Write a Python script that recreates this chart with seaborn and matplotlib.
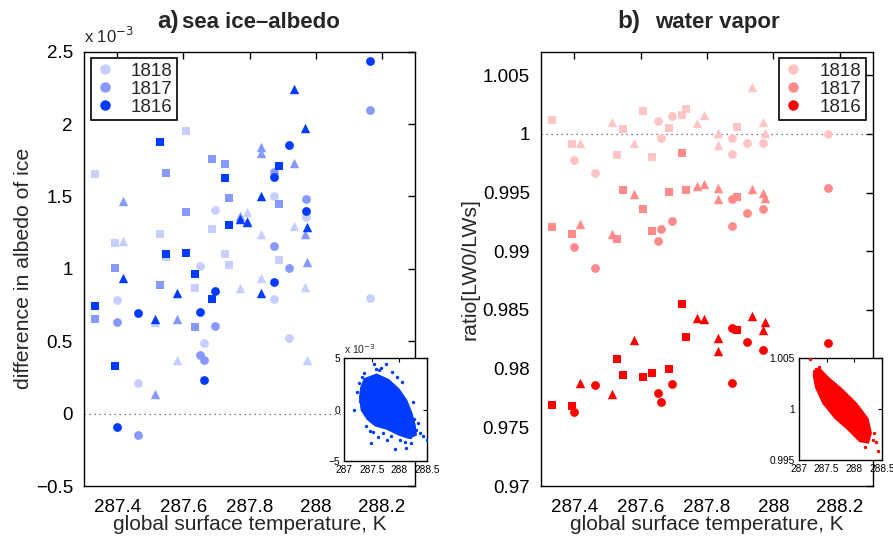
import numpy as np
import pandas as pd
import matplotlib
matplotlib.use("Agg")
import matplotlib.pyplot as plt
import seaborn as sns
from matplotlib.lines import Line2D
from matplotlib.ticker import FuncFormatter

# ---------------- data ----------------
years = ["1818", "1817", "1816"]

# global surface temperature (K) of each ensemble member, per marker group
sq_temp = [287.334, 287.394, 287.530, 287.548, 287.608, 287.635, 287.686, 287.726, 287.738, 287.889]
ci_temp = [287.399, 287.463, 287.651, 287.661, 287.696, 287.875, 287.875, 287.920, 287.970, 288.164]
tr_temp = [287.418, 287.514, 287.580, 287.771, 287.792, 287.834, 287.834, 287.935, 287.968, 287.974]

# a) difference in albedo of ice (units of 1e-3)
alb_sq_1818 = [1.655, 1.177, 1.239, 1.084, 1.950, 0.868, 1.274, 1.103, 1.027, 1.059]
alb_sq_1817 = [0.652, 1.004, 0.887, 1.660, 1.391, 0.597, 1.757, 1.722, 1.487, 1.446]
alb_sq_1816 = [0.742, 0.329, 1.874, 1.103, 1.110, 0.963, 0.790, 1.626, 1.303, 1.709]
alb_ci_1818 = [0.787, 0.212, 1.018, 0.488, 1.409, 1.503, 0.794, 0.525, 1.356, 0.801]
alb_ci_1817 = [0.631, -0.145, 0.403, 0.369, 0.608, 1.669, 1.158, 1.004, 1.481, 2.099]
alb_ci_1816 = [-0.090, 0.695, 0.700, 0.233, 0.845, 1.633, 0.910, 1.854, 1.398, 2.436]
alb_tr_1818 = [1.191, 0.630, 0.369, 0.868, 1.395, 1.239, 0.939, 1.296, 0.877, 0.371]
alb_tr_1817 = [1.469, 0.138, 0.652, 1.367, 1.330, 1.844, 1.803, 1.729, 1.239, 1.050]
alb_tr_1816 = [0.939, 0.652, 0.834, 1.342, 1.322, 1.506, 0.832, 2.242, 1.971, 1.287]

# b) ratio LW0/LWs
wv_sq_1818 = [1.00119, 0.99915, 0.99822, 1.00042, 1.00195, 0.99805, 1.00051, 1.00164, 1.00212, 1.00059]
wv_sq_1817 = [0.99203, 0.99144, 0.99102, 0.99525, 0.99364, 0.99172, 0.99505, 0.99839, 0.99525, 0.99466]
wv_sq_1816 = [0.97692, 0.97680, 0.98085, 0.97949, 0.97932, 0.97966, 0.97994, 0.98553, 0.98271, 0.98330]
wv_ci_1818 = [0.99774, 0.99666, 1.00107, 0.99963, 1.00149, 0.99966, 0.99830, 0.99926, 0.99926, 1.00000]
wv_ci_1817 = [0.99034, 0.98856, 0.99090, 0.99192, 0.99257, 0.99441, 0.99217, 0.99322, 0.99358, 0.99536]
wv_ci_1816 = [0.97627, 0.97864, 0.97794, 0.97712, 0.97869, 0.98344, 0.97878, 0.98225, 0.98155, 0.98220]
wv_tr_1818 = [0.99926, 1.00104, 0.99920, 1.00090, 1.00164, 1.00008, 0.99903, 1.00401, 1.00098, 1.00008]
wv_tr_1817 = [0.99234, 0.99144, 0.99486, 0.99556, 0.99570, 0.99539, 0.99449, 0.99528, 0.99500, 0.99454]
wv_tr_1816 = [0.97875, 0.97785, 0.98240, 0.98435, 0.98426, 0.98259, 0.98153, 0.98452, 0.98327, 0.98395]

# inset clouds (large ensemble): outline of the dense core + scattered outliers
inA_core_t = [287.37, 287.59, 287.81, 287.99, 288.13, 288.22, 288.28, 288.30, 288.17, 288.00,
              287.77, 287.57, 287.43, 287.32, 287.29, 287.31]
inA_core_v = [2.95, 3.40, 2.85, 1.95, 0.85, -0.35, -1.55, -2.45, -2.75, -2.45,
              -1.85, -1.55, -0.95, -0.05, 1.15, 2.10]
inA_out_t = [287.55, 287.76, 287.36, 287.19, 287.29, 287.47, 287.62, 287.71, 287.92, 288.13,
             288.19, 288.31, 288.43, 288.50, 288.22, 288.01, 287.44, 288.25, 288.34, 287.95,
             287.86, 287.67, 287.49, 287.77, 287.27, 287.33, 287.40, 287.52, 287.63, 288.05,
             288.10, 288.38, 287.23, 287.58, 287.85, 288.27]
inA_out_v = [4.45, 4.45, 3.58, -0.05, 0.86, -2.09, -2.64, -2.31, -3.83, -3.77,
             -2.64, -1.99, -2.57, -2.96, -3.28, -2.96, 1.57, 0.76, -1.34, 3.18,
             3.67, 4.00, -3.28, -2.96, 2.60, 3.20, -1.60, -2.20, 3.80, 2.70,
             -3.20, -2.30, 1.70, 3.90, -2.60, -0.90]
inB_core_t = [287.27, 287.38, 287.53, 287.77, 288.04, 288.24, 288.30, 288.25, 288.10, 287.89,
              287.65, 287.44, 287.31, 287.27]
inB_core_v = [1.00370, 1.00390, 1.00305, 1.00195, 1.00050, 0.99905, 0.99765, 0.99670, 0.99685, 0.99800,
              0.99915, 1.00056, 1.00210, 1.00320]
inB_out_t = [287.20, 288.40, 288.43, 288.33, 288.19, 287.30, 287.36, 288.36]
inB_out_v = [1.00487, 0.99680, 0.99591, 0.99700, 0.99630, 1.00395, 1.00410, 0.99760]

temps = {"s": sq_temp, "o": ci_temp, "^": tr_temp}
alb = {("s", "1818"): alb_sq_1818, ("s", "1817"): alb_sq_1817, ("s", "1816"): alb_sq_1816,
       ("o", "1818"): alb_ci_1818, ("o", "1817"): alb_ci_1817, ("o", "1816"): alb_ci_1816,
       ("^", "1818"): alb_tr_1818, ("^", "1817"): alb_tr_1817, ("^", "1816"): alb_tr_1816}
wv = {("s", "1818"): wv_sq_1818, ("s", "1817"): wv_sq_1817, ("s", "1816"): wv_sq_1816,
      ("o", "1818"): wv_ci_1818, ("o", "1817"): wv_ci_1817, ("o", "1816"): wv_ci_1816,
      ("^", "1818"): wv_tr_1818, ("^", "1817"): wv_tr_1817, ("^", "1816"): wv_tr_1816}

blues = {"1818": "#c6cfff", "1817": "#8699ff", "1816": "#003cff"}
reds = {"1818": "#ffc4c4", "1817": "#ff8a8a", "1816": "#ff0000"}
msize = {"s": 30, "o": 40, "^": 46}

# ---------------- style ----------------
sns.set_theme(style="white")
plt.rcParams["font.family"] = ["Liberation Sans", "DejaVu Sans"]
plt.rcParams["axes.linewidth"] = 1.0
plt.rcParams["axes.edgecolor"] = "black"

fig = plt.figure(figsize=(8.93, 5.42), dpi=100)
axL = fig.add_axes([0.0941, 0.1033, 0.3707, 0.8013])
axR = fig.add_axes([0.6058, 0.1033, 0.3718, 0.8013])


def fmt(v, p):
    return ("%g" % round(v, 4)).replace("-", "\u2212")


def draw_main(ax, data, pal):
    for yr in years:
        for m in ["s", "o", "^"]:
            df = pd.DataFrame({"T": temps[m], "v": data[(m, yr)]})
            sns.scatterplot(data=df, x="T", y="v", marker=m, s=msize[m], color=pal[yr],
                            linewidth=0, ax=ax, legend=False, zorder=3)
    ax.set_xlim(287.3, 288.3)
    ax.set_xticks([287.4, 287.6, 287.8, 288.0, 288.2])
    ax.xaxis.set_major_formatter(FuncFormatter(fmt))
    ax.yaxis.set_major_formatter(FuncFormatter(fmt))
    ax.tick_params(direction="in", length=5, width=1, top=True, right=True,
                   labelsize=13.5, colors="black", pad=8)
    ax.tick_params(axis="x", pad=9.5)
    for s in ax.spines.values():
        s.set_color("black")
        s.set_linewidth(1.0)
    ax.set_xlabel("global surface temperature, K", fontsize=15)
    ax.xaxis.set_label_coords(0.5, -0.067)
    handles = [Line2D([], [], marker="o", ls="", color=pal[y], markersize=7.5, markeredgewidth=0)
               for y in years]
    return handles


hL = draw_main(axL, alb, blues)
axL.set_ylim(-0.5, 2.5)
axL.set_yticks([-0.5, 0, 0.5, 1, 1.5, 2, 2.5])
axL.axhline(0, color="#555555", lw=0.9, ls=(0, (1, 3)), zorder=1)
axL.set_ylabel("difference in albedo of ice", fontsize=15.3)
axL.yaxis.set_label_coords(-0.154, 0.5)
axL.text(0.0, 1.012, "x 10$^{-3}$", transform=axL.transAxes, fontsize=12, ha="left", va="bottom")
legL = axL.legend(hL, years, loc="upper left", bbox_to_anchor=(0.02, 0.986), fontsize=13.5,
                  frameon=True, fancybox=False, edgecolor="black", framealpha=1,
                  handlelength=1.0, handletextpad=0.9, labelspacing=0.05, borderpad=0.25,
                  borderaxespad=0)
legL.get_frame().set_linewidth(1.2)

hR = draw_main(axR, wv, reds)
axR.set_ylim(0.97, 1.007)
axR.set_yticks([0.97, 0.975, 0.98, 0.985, 0.99, 0.995, 1.0, 1.005])
axR.axhline(1.0, color="#555555", lw=0.9, ls=(0, (1, 3)), zorder=1)
axR.set_ylabel("ratio[LW0/LWs]", fontsize=15.3)
axR.yaxis.set_label_coords(-0.184, 0.5)
legR = axR.legend(hR, years, loc="upper right", bbox_to_anchor=(0.979, 0.986), fontsize=13.5,
                  frameon=True, fancybox=False, edgecolor="black", framealpha=1,
                  handlelength=1.0, handletextpad=0.9, labelspacing=0.05, borderpad=0.25,
                  borderaxespad=0)
legR.get_frame().set_linewidth(1.2)

# titles
ty = 1 - 28 / 542
fig.text(157 / 893, ty, "a)", fontsize=17.5, fontweight="bold", va="baseline")
fig.text(182 / 893, ty, "sea ice\u2013albedo", fontsize=16, fontweight="bold", va="baseline")
fig.text(617 / 893, ty, "b)", fontsize=17.5, fontweight="bold", va="baseline")
fig.text(655 / 893, ty, "water vapor", fontsize=16, fontweight="bold", va="baseline")


# insets
def draw_inset(ax, ct, cv, ot, ov, col, xlim, ylim, yt):
    ax.set_facecolor("white")
    ax.fill(ct, cv, color=col, lw=1.5, ec=col, zorder=2)
    sns.scatterplot(x=ot, y=ov, s=6, color=col, linewidth=0, ax=ax, legend=False, zorder=3)
    ax.set_xlim(*xlim)
    ax.set_ylim(*ylim)
    ax.set_xticks([287, 287.5, 288, 288.5])
    ax.set_yticks(yt)
    ax.xaxis.set_major_formatter(FuncFormatter(fmt))
    ax.yaxis.set_major_formatter(FuncFormatter(fmt))
    ax.tick_params(direction="in", length=3, width=0.8, top=True, right=True,
                   labelsize=7.3, colors="black", pad=3)
    for s in ax.spines.values():
        s.set_color("black")
        s.set_linewidth(1.0)
    ax.set_xlabel("")
    ax.set_ylabel("")


insA = fig.add_axes([0.3852, 0.1494, 0.0929, 0.190], zorder=5)
draw_inset(insA, inA_core_t, inA_core_v, inA_out_t, inA_out_v, "#003cff",
           (287, 288.5), (-5, 5), [-5, 0, 5])
insA.text(0.0, 1.02, "x 10$^{-3}$", transform=insA.transAxes, fontsize=7.5,
          ha="left", va="bottom")

insB = fig.add_axes([0.8947, 0.1513, 0.0929, 0.1882], zorder=5)
draw_inset(insB, inB_core_t, inB_core_v, inB_out_t, inB_out_v, "#ff0000",
           (287, 288.5), (0.995, 1.005), [0.995, 1.0, 1.005])

fig.savefig("out.png", dpi=100)
